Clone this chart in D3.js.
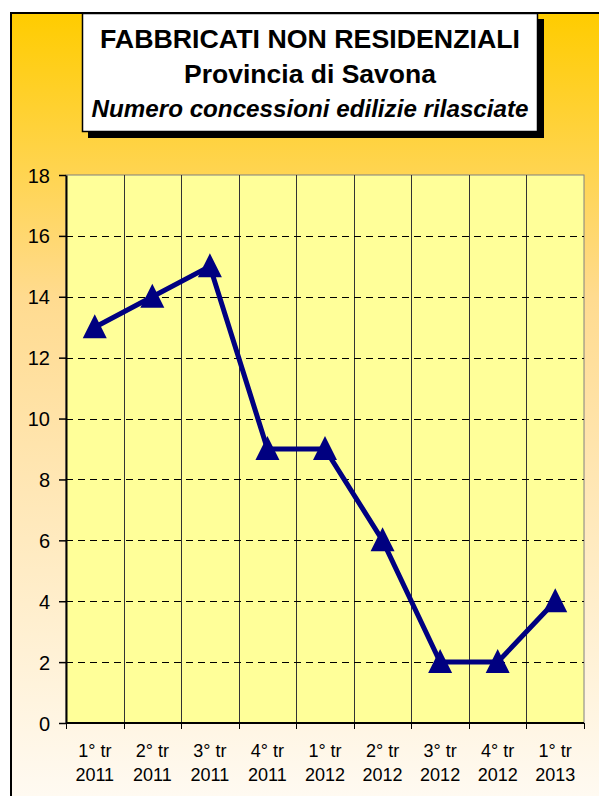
<!DOCTYPE html>
<html><head><meta charset="utf-8">
<script src="https://cdn.jsdelivr.net/npm/d3@7"></script>
<style>body{margin:0;padding:0;background:#fff;} svg{display:block;}</style>
</head><body>
<script>
const categories = ["1° tr|2011","2° tr|2011","3° tr|2011","4° tr|2011","1° tr|2012","2° tr|2012","3° tr|2012","4° tr|2012","1° tr|2013"];
const values = [13, 14, 15, 9, 9, 6, 2, 2, 4];
const yTicks = [0, 2, 4, 6, 8, 10, 12, 14, 16, 18];
const titleLines = ["FABBRICATI NON RESIDENZIALI", "Provincia di Savona", "Numero concessioni edilizie rilasciate"];

(function(){
const W = 599, H = 796;
const FONT = "Liberation Sans, Arial, sans-serif";
const svg = d3.select("body").append("svg").attr("width", W).attr("height", H);
const defs = svg.append("defs");
const g = defs.append("linearGradient").attr("id","bg").attr("x1",0).attr("y1",0).attr("x2",0).attr("y2",1);
g.append("stop").attr("offset","0%").attr("stop-color","#FFCC00");
g.append("stop").attr("offset","35%").attr("stop-color","#FFDB90");
g.append("stop").attr("offset","100%").attr("stop-color","#FFFCF8");

svg.append("rect").attr("x",0).attr("y",0).attr("width",W).attr("height",H).attr("fill","#fff");
svg.append("rect").attr("x",11).attr("y",13).attr("width",W+20).attr("height",H+20)
  .attr("fill","url(#bg)").attr("stroke","#000").attr("stroke-width",2);

// title box
svg.append("rect").attr("x",88).attr("y",19).attr("width",456).attr("height",119).attr("fill","#000");
svg.append("rect").attr("x",82.5).attr("y",13.5).attr("width",455).attr("height",118).attr("fill","#fff").attr("stroke","#000").attr("stroke-width",1.5);
const titleSpec = [
  {y:48, size:26, w:420, italic:false},
  {y:83, size:26, w:252, italic:false},
  {y:116.5, size:23.5, w:437, italic:true}
];
titleSpec.forEach((s,i) => {
  svg.append("text").attr("x",310).attr("y",s.y).attr("text-anchor","middle")
    .attr("font-family",FONT).attr("font-weight","bold").attr("font-style", s.italic ? "italic" : "normal")
    .attr("font-size",s.size).attr("textLength",s.w).attr("lengthAdjust","spacingAndGlyphs")
    .text(titleLines[i]);
});

const pl = 66, pr = 584, pt = 175, pb = 723;
const x = d3.scaleBand().domain(categories).range([pl, pr]).padding(0);
const y = d3.scaleLinear().domain([0, 18]).range([pb, pt]);

svg.append("rect").attr("x",pl).attr("y",pt).attr("width",pr-pl).attr("height",pb-pt)
  .attr("fill","#FFFF99").attr("stroke","#808080").attr("stroke-width",1);

svg.append("g").selectAll("line").data(categories.slice(1)).join("line")
  .attr("x1", d => Math.round(x(d))+0.5).attr("x2", d => Math.round(x(d))+0.5)
  .attr("y1", pt).attr("y2", pb).attr("stroke","#333").attr("stroke-width",1);
svg.append("g").selectAll("line").data(yTicks.filter(t => t>0 && t<18)).join("line")
  .attr("x1", pl).attr("x2", pr)
  .attr("y1", d => Math.round(y(d))+0.5).attr("y2", d => Math.round(y(d))+0.5)
  .attr("stroke","#000").attr("stroke-width",1).attr("stroke-dasharray","7,5");

const yAxis = d3.axisLeft(y).tickValues(yTicks).tickSize(7).tickPadding(9).tickSizeOuter(0);
const ya = svg.append("g").attr("transform",`translate(${pl},0)`).call(yAxis);
ya.select(".domain").attr("stroke","#000").attr("stroke-width",2);
ya.selectAll(".tick line").attr("stroke","#000").attr("stroke-width",1.5);
ya.selectAll(".tick text").attr("font-family",FONT).attr("font-size",20).attr("fill","#000").attr("dy","0.35em");

const xa = svg.append("g").attr("transform",`translate(0,${pb})`);
xa.append("line").attr("x1",pl).attr("x2",pr).attr("y1",0).attr("y2",0).attr("stroke","#000").attr("stroke-width",2);
xa.selectAll("line.tk").data(categories.concat(["_end"])).join("line").attr("class","tk")
  .attr("x1", (d,i) => i<categories.length ? Math.round(x(d))+0.5 : pr+0.5)
  .attr("x2", (d,i) => i<categories.length ? Math.round(x(d))+0.5 : pr+0.5)
  .attr("y1",0).attr("y2",6).attr("stroke","#000").attr("stroke-width",1);
const lbl = xa.selectAll("text.lb").data(categories).join("text").attr("class","lb")
  .attr("text-anchor","middle").attr("font-family",FONT).attr("font-size",18).attr("fill","#000")
  .attr("transform", d => `translate(${x(d)+x.bandwidth()/2},0)`);
lbl.append("tspan").attr("x",0).attr("y",33.5).text(d => d.split("|")[0]);
lbl.append("tspan").attr("x",0).attr("y",58).text(d => d.split("|")[1]);

const line = d3.line().x((d,i) => x(categories[i]) + x.bandwidth()/2).y(d => y(d));
svg.append("path").datum(values).attr("d", line).attr("fill","none")
  .attr("stroke","#000080").attr("stroke-width",5).attr("stroke-linejoin","miter");

svg.append("g").selectAll("path").data(values).join("path")
  .attr("d", "M0,-13L12,11L-12,11Z")
  .attr("transform", (d,i) => `translate(${x(categories[i]) + x.bandwidth()/2},${y(d)})`)
  .attr("fill","#000080");
})();
</script>
</body></html>
